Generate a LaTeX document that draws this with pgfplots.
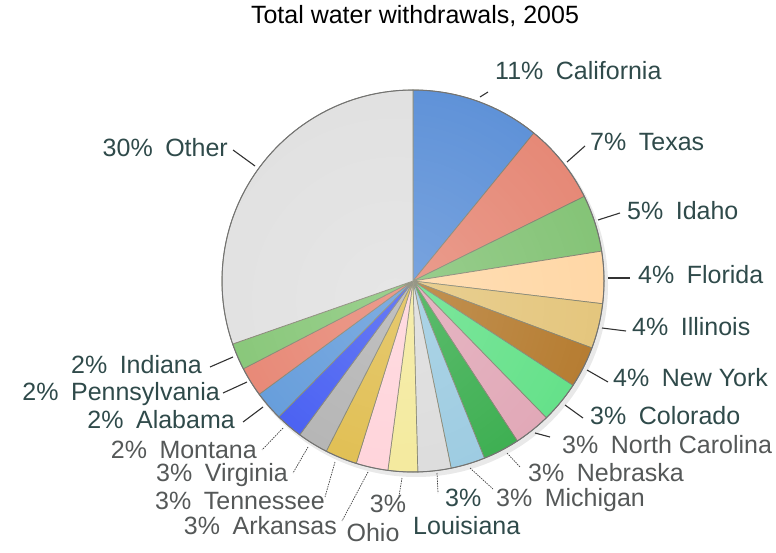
\documentclass[border=0pt]{standalone}
\usepackage{pgfplots}
\pgfplotsset{compat=1.18}
\usepackage{fontspec}
\setmainfont{Liberation Sans}
\usetikzlibrary{fadings}
\definecolor{cCal}{HTML}{4480D2}
\definecolor{cTex}{HTML}{E27560}
\definecolor{cIda}{HTML}{70BA60}
\definecolor{cFla}{HTML}{FFD197}
\definecolor{cIll}{HTML}{E0BC66}
\definecolor{cNY}{HTML}{A9650C}
\definecolor{cCol}{HTML}{48DC74}
\definecolor{cNC}{HTML}{DC98AA}
\definecolor{cNeb}{HTML}{18A030}
\definecolor{cMich}{HTML}{8AC2DC}
\definecolor{cLou}{HTML}{D6D6D6}
\definecolor{cOhio}{HTML}{F2E68A}
\definecolor{cArk}{HTML}{FFCCD4}
\definecolor{cTen}{HTML}{DBB230}
\definecolor{cVir}{HTML}{A6A6A6}
\definecolor{cMon}{HTML}{2440F0}
\definecolor{cAla}{HTML}{4689D4}
\definecolor{cPen}{HTML}{E3705A}
\definecolor{cInd}{HTML}{70BC5E}
\definecolor{cOth}{HTML}{DCDCDC}
\definecolor{edge}{HTML}{6E6E58}
\definecolor{teal}{HTML}{2F4A4A}
\definecolor{grayt}{HTML}{555858}
\tikzfading[name=piefade, inner color=transparent!70, outer color=transparent!100]
\tikzset{
  lab/.style={font=\fontsize{25}{27}\selectfont,inner sep=0pt,text height=0.72em,text depth=0pt},
  leader/.style={draw=black!80,line width=1.1pt},
  dleader/.style={draw=black!75,line width=0.7pt,dash pattern=on 1.5pt off 1pt}}
\begin{document}
\begin{tikzpicture}
\begin{axis}[width=776pt,height=553pt,scale only axis,hide axis,
  xmin=0,xmax=776,ymin=0,ymax=553,y dir=reverse,clip=false]
% shadow
\fill[black!25,opacity=0.35] (axis cs:416,285) circle[radius=192pt];
\gdef\cumangle{90}
\foreach \v/\col in {10.9/cCal,6.8/cTex,4.8/cIda,4.4/cFla,3.8/cIll,3.5/cNY,3.5/cCol,3.1/cNC,3.1/cNeb,2.9/cMich,2.8/cLou,2.5/cOhio,2.7/cArk,2.7/cTen,2.6/cVir,2.3/cMon,2.5/cAla,2.5/cPen,2.25/cInd,30.35/cOth}{
  \pgfmathsetmacro\a{\cumangle}
  \pgfmathsetmacro\b{\cumangle-3.6*\v}
  \edef\doplot{\noexpand\addplot[draw=edge,line width=0.7pt,fill=\col,domain=\b:\a,samples=50,variable=\noexpand\t]
    ({413+191*cos(\noexpand\t)},{281-191*sin(\noexpand\t)}) -- (axis cs:413,281) -- cycle;}
  \doplot
  \xdef\cumangle{\b}
}
\begin{scope}
\clip (axis cs:413,281) circle[radius=191pt];
\fill[white,path fading=piefade] (axis cs:395,300) circle[radius=420pt];
\end{scope}
\draw[black!55,line width=1pt] (axis cs:413,281) circle[radius=191pt];
% title
\node[lab] at (axis cs:415,20) {Total water withdrawals, 2005};
% right labels
\draw[leader] (axis cs:480,97) -- (axis cs:488,92);
\node[lab,teal,anchor=west] at (axis cs:495,76) {11\%\hspace{0.5em}California};
\draw[leader] (axis cs:567,162) -- (axis cs:585,146);
\node[lab,teal,anchor=west] at (axis cs:590,147) {7\%\hspace{0.5em}Texas};
\draw[leader] (axis cs:598,220) -- (axis cs:620,213);
\node[lab,teal,anchor=west] at (axis cs:627,216) {5\%\hspace{0.5em}Idaho};
\draw[leader] (axis cs:608,278) -- (axis cs:630,278);
\node[lab,teal,anchor=west] at (axis cs:638,280) {4\%\hspace{0.5em}Florida};
\draw[leader] (axis cs:602,328) -- (axis cs:626,331);
\node[lab,teal,anchor=west] at (axis cs:632,332) {4\%\hspace{0.5em}Illinois};
\draw[leader] (axis cs:587,370) -- (axis cs:608,382);
\node[lab,teal,anchor=west] at (axis cs:613,383) {4\%\hspace{0.5em}New York};
\draw[leader] (axis cs:565,405) -- (axis cs:583,418);
\node[lab,teal,anchor=west] at (axis cs:590,421) {3\%\hspace{0.5em}Colorado};
\draw[leader] (axis cs:535,433) -- (axis cs:550,437);
\node[lab,grayt,anchor=west] at (axis cs:562,450) {3\%\hspace{0.5em}North Carolina};
\draw[dleader] (axis cs:507,453) -- (axis cs:520,467);
\node[lab,grayt,anchor=west] at (axis cs:528,478) {3\%\hspace{0.5em}Nebraska};
\draw[dleader] (axis cs:470,468) -- (axis cs:493,489);
\node[lab,grayt,anchor=west] at (axis cs:496,503) {3\%\hspace{0.5em}Michigan};
\draw[dleader] (axis cs:437,473) -- (axis cs:438,493);
\node[lab,teal,anchor=west] at (axis cs:445,503) {3\%};
\node[lab,teal,anchor=west] at (axis cs:413,531) {Louisiana};
\draw[dleader] (axis cs:402,478) -- (axis cs:399,496);
\node[lab,grayt] at (axis cs:388,509) {3\%};
\node[lab,grayt] at (axis cs:373,538) {Ohio};
% left labels
\draw[dleader] (axis cs:368,472) -- (axis cs:342,521);
\node[lab,grayt,anchor=east] at (axis cs:337,531) {3\%\hspace{0.5em}Arkansas};
\draw[dleader] (axis cs:335,462) -- (axis cs:325,497);
\node[lab,grayt,anchor=east] at (axis cs:325,506) {3\%\hspace{0.5em}Tennessee};
\draw[dleader] (axis cs:308,447) -- (axis cs:293,473);
\node[lab,grayt,anchor=east] at (axis cs:288,478) {3\%\hspace{0.5em}Virginia};
\draw[dleader] (axis cs:283,428) -- (axis cs:262,450);
\node[lab,grayt,anchor=east] at (axis cs:257,455) {2\%\hspace{0.5em}Montana};
\draw[leader] (axis cs:263,407) -- (axis cs:243,422);
\node[lab,teal,anchor=east] at (axis cs:235,425) {2\%\hspace{0.5em}Alabama};
\draw[leader] (axis cs:247,382) -- (axis cs:223,393);
\node[lab,teal,anchor=east] at (axis cs:220,397) {2\%\hspace{0.5em}Pennsylvania};
\draw[leader] (axis cs:233,357) -- (axis cs:210,367);
\node[lab,teal,anchor=east] at (axis cs:202,370) {2\%\hspace{0.5em}Indiana};
\draw[leader] (axis cs:233,150) -- (axis cs:255,166);
\node[lab,teal,anchor=east] at (axis cs:228,153) {30\%\hspace{0.5em}Other};
\path (axis cs:0,0) (axis cs:776,553);
\end{axis}
\end{tikzpicture}
\end{document}
